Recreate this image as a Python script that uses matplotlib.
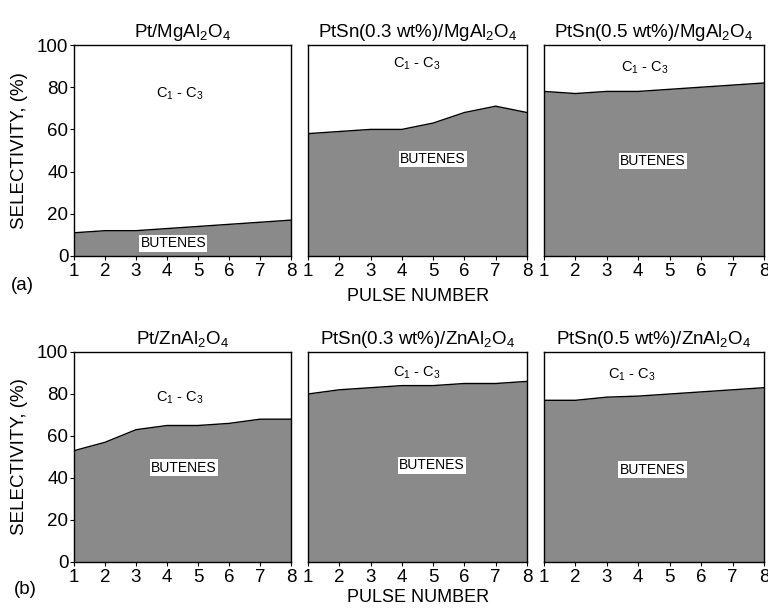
import matplotlib
matplotlib.use("Agg")
import matplotlib.pyplot as plt
import numpy as np

plt.rcParams['font.family'] = ['Liberation Sans', 'DejaVu Sans']
plt.rcParams['mathtext.fontset'] = 'custom'
plt.rcParams['mathtext.rm'] = 'Liberation Sans'
plt.rcParams['mathtext.it'] = 'Liberation Sans'
plt.rcParams['mathtext.default'] = 'regular'

pulses = [1, 2, 3, 4, 5, 6, 7, 8]

titles = [
    "Pt/MgAl$_2$O$_4$",
    "PtSn(0.3 wt%)/MgAl$_2$O$_4$",
    "PtSn(0.5 wt%)/MgAl$_2$O$_4$",
    "Pt/ZnAl$_2$O$_4$",
    "PtSn(0.3 wt%)/ZnAl$_2$O$_4$",
    "PtSn(0.5 wt%)/ZnAl$_2$O$_4$",
]

butenes_pt_mg = [11, 12, 12, 13, 14, 15, 16, 17]
butenes_ptsn03_mg = [58, 59, 60, 60, 63, 68, 71, 68]
butenes_ptsn05_mg = [78, 77, 78, 78, 79, 80, 81, 82]
butenes_pt_zn = [53, 57, 63, 65, 65, 66, 68, 68]
butenes_ptsn03_zn = [80, 82, 83, 84, 84, 85, 85, 86]
butenes_ptsn05_zn = [77, 77, 78.5, 79, 80, 81, 82, 83]

series = [butenes_pt_mg, butenes_ptsn03_mg, butenes_ptsn05_mg,
          butenes_pt_zn, butenes_ptsn03_zn, butenes_ptsn05_zn]

# label positions (data coords): (c_x, c_y, b_x, b_y)
label_pos = [
    (4.42, 77, 4.2, 6),
    (4.47, 91, 5.0, 46),
    (4.2, 89, 4.47, 45),
    (4.43, 78, 4.54, 45),
    (4.48, 90, 4.96, 46),
    (3.81, 89, 4.45, 44),
]

W, H = 768, 608
fig = plt.figure(figsize=(W / 100, H / 100), dpi=100)

cols = [(74, 217), (308, 219), (544, 220)]
rows = [(45, 256), (352, 562)]

fill_color = '#8a8a8a'

for i in range(6):
    r, c = divmod(i, 3)
    left, width = cols[c]
    top, bottom = rows[r]
    ax = fig.add_axes([left / W, 1 - bottom / H, width / W, (bottom - top) / H])
    y = series[i]
    ax.fill_between(pulses, 0, y, color=fill_color, lw=0)
    ax.plot(pulses, y, color='black', lw=1.0)
    ax.set_xlim(1, 8)
    ax.set_ylim(0, 100)
    ax.set_xticks(pulses)
    ax.tick_params(axis='x', direction='out', length=3, width=0.8, labelsize=13.5, pad=2)
    if c == 0:
        ax.set_yticks([0, 20, 40, 60, 80, 100])
        ax.tick_params(axis='y', direction='out', length=3, width=0.8, labelsize=13.5, pad=1)
        ax.set_ylabel("SELECTIVITY, (%)", fontsize=13.5)
        ax.yaxis.set_label_coords((28 - left) / width, 0.5)
    else:
        ax.set_yticks([])
    for s in ax.spines.values():
        s.set_linewidth(1.0)
    ax.set_title(titles[i], fontsize=13.5, pad=6)
    cx, cy, bx, by = label_pos[i]
    ax.text(cx, cy, "C$_1$ - C$_3$", fontsize=10.5, ha='center', va='center')
    ax.text(bx, by, "BUTENES", fontsize=10, ha='center', va='center',
            bbox=dict(facecolor='white', edgecolor='none', pad=1.0))

fig.text(418 / W, 1 - 296 / H, "PULSE NUMBER", fontsize=13, ha='center', va='center')
fig.text(418 / W, 1 - 598 / H, "PULSE NUMBER", fontsize=13, ha='center', va='center')
fig.text(22 / W, 1 - 286 / H, "(a)", fontsize=13.5, ha='center', va='center')
fig.text(25 / W, 1 - 590 / H, "(b)", fontsize=13.5, ha='center', va='center')

fig.savefig("out.png", dpi=100)
